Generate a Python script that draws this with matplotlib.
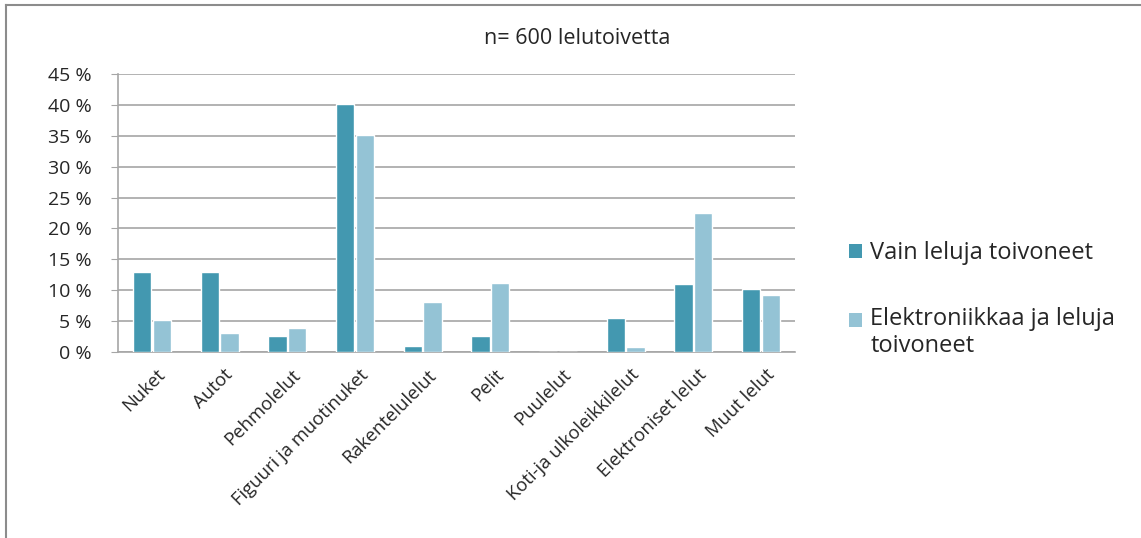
import matplotlib
matplotlib.use("Agg")
import matplotlib.pyplot as plt
from matplotlib.patches import Patch, Rectangle
from matplotlib.lines import Line2D
from matplotlib.legend_handler import HandlerPatch
import numpy as np

categories = ["Nuket", "Autot", "Pehmolelut", "Figuuri ja muotinuket", "Rakentelulelut",
              "Pelit", "Puulelut", "Koti-ja ulkoleikkilelut", "Elektroniset lelut", "Muut lelut"]
vain_leluja = [13.0, 13.0, 2.6, 40.1, 1.0, 2.6, 0.0, 5.5, 11.0, 10.2]
elektroniikkaa = [5.2, 3.1, 3.9, 35.1, 8.1, 11.2, 0.0, 0.8, 22.5, 9.2]
series_labels = ["Vain leluja toivoneet", "Elektroniikkaa ja leluja\ntoivoneet"]
title = "n= 600 lelutoivetta"
yticks = [0, 5, 10, 15, 20, 25, 30, 35, 40, 45]

dark = "#4398b0"
light = "#94c3d5"
grid_c = "#a6a6a6"
text_c = "#262626"

plt.rcParams['font.family'] = ['Open Sans', 'DejaVu Sans']

W, H = 1141, 538
fig = plt.figure(figsize=(W / 100, H / 100), dpi=100)
ax = fig.add_axes([118 / W, 1 - 352 / H, (795 - 118) / W, (352 - 74) / H])

x = np.arange(len(categories))
bw = 0.27
ax.bar(x - bw / 2 - 0.01, vain_leluja, bw, color=dark, edgecolor="white", linewidth=1, zorder=3)
ax.bar(x + bw / 2 + 0.01, elektroniikkaa, bw, color=light, edgecolor="white", linewidth=1, zorder=3)

ax.set_xlim(-0.5, len(categories) - 0.5)
ax.set_ylim(0, 45)
ax.set_yticks(yticks)
ax.set_yticklabels([f"{v} %" for v in yticks], fontsize=14, color=text_c)
ax.yaxis.grid(True, color=grid_c, linewidth=1.2, zorder=0)
ax.set_axisbelow(True)
for s in ["top", "right"]:
    ax.spines[s].set_visible(False)
for s in ["left", "bottom"]:
    ax.spines[s].set_color(grid_c)
    ax.spines[s].set_linewidth(1.2)
ax.tick_params(axis="y", length=5, color=grid_c, pad=14)
ax.tick_params(axis="x", length=0, pad=10)
ax.set_xticks(x + 0.06)
ax.set_xticklabels(categories, rotation=45, ha="right", rotation_mode="anchor",
                   fontsize=13.3, color=text_c)

fig.text(577 / W, 1 - 38 / H, title, ha="center", va="center", fontsize=15.5, color=text_c)


def top_line_patch(legend, orig_handle, xdescent, ydescent, width, height, fontsize):
    return Rectangle((-xdescent, -ydescent + 0.55 * fontsize), width, height)


handles = [Patch(facecolor=dark, edgecolor="none"), Patch(facecolor=light, edgecolor="none")]
fig.legend(handles, series_labels, loc="upper left", bbox_to_anchor=(828 / W, 1 - 220 / H),
           frameon=False, fontsize=17, handlelength=0.55, handleheight=0.55,
           handletextpad=0.35, labelspacing=1.75, labelcolor=text_c,
           handler_map={handles[1]: HandlerPatch(patch_func=top_line_patch)})

# outer border (left and top)
fig.add_artist(Line2D([6 / W, 6 / W], [0, 1 - 5 / H], color="#8c8c8c", linewidth=1.5))
fig.add_artist(Line2D([6 / W, 1], [1 - 5 / H, 1 - 5 / H], color="#8c8c8c", linewidth=1.5))

fig.savefig("out.png", dpi=100, facecolor="white")
